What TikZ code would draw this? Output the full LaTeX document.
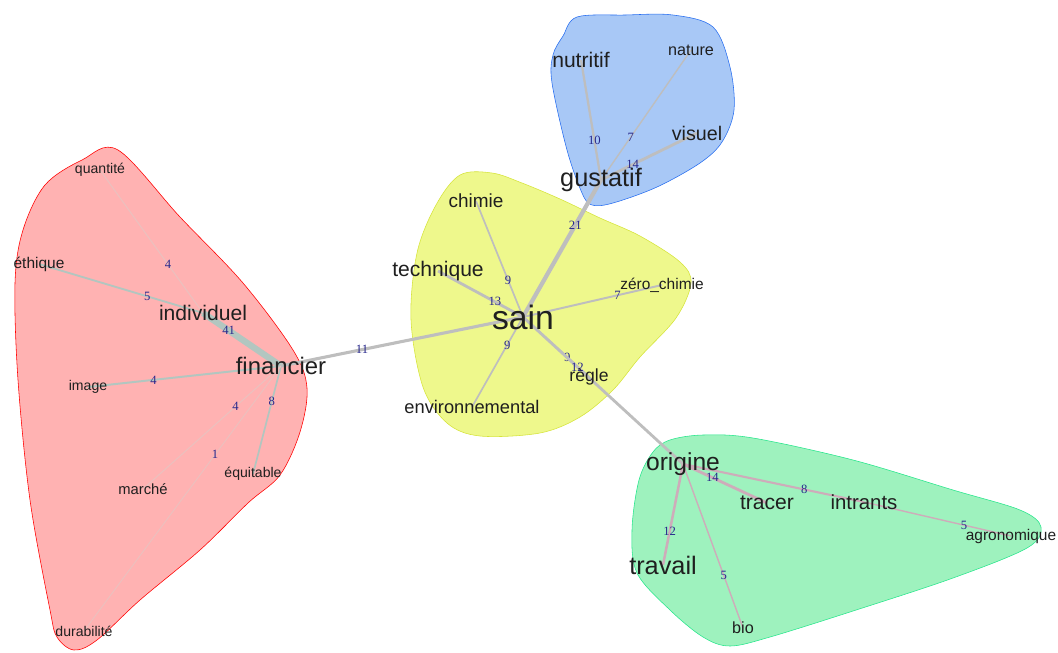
\documentclass[tikz,border=0pt]{standalone}
\usepackage{fontspec}
\setmainfont{Liberation Sans}
\newfontfamily\numfont{Liberation Serif}
\usepackage{xcolor}
\definecolor{hullred}{RGB}{255,178,178}
\definecolor{hullyellow}{RGB}{238,248,140}
\definecolor{hullblue}{RGB}{168,200,246}
\definecolor{hullgreen}{RGB}{158,242,190}
\definecolor{edgeyellow}{RGB}{214,228,60}
\definecolor{edgeblue}{RGB}{40,110,240}
\definecolor{edgegreen}{RGB}{40,230,140}
\definecolor{linkgray}{RGB}{190,190,190}
\definecolor{linkred}{RGB}{178,198,192}
\definecolor{linkfaint}{RGB}{236,192,190}
\definecolor{linkgreen}{RGB}{206,172,186}
\definecolor{lblblue}{RGB}{40,40,140}
\pgfdeclarelayer{hulls}
\pgfdeclarelayer{links}
\pgfsetlayers{hulls,links,main}

\begin{document}
\begin{tikzpicture}[x=0.025cm, y=-0.025cm,
    word/.style={font=\fontsize{#1}{#1}\selectfont, text=black!88, inner sep=0pt},
    lnk/.style={draw=linkgray, line width=#1},
    lbl/.style={font=\numfont\fontsize{9}{9}\selectfont, text=lblblue, inner sep=0pt}]
    \useasboundingbox (0,0) rectangle (1058,652);

    % clusters
    \begin{pgfonlayer}{hulls}
    \draw[red, fill=hullred] plot[smooth cycle, tension=0.55] coordinates {
        (118,150) (180,217) (243,283) (293,350) (307,388) (300,432) (280,475)
        (248,503) (200,550) (140,600) (97,640) (74,650) (57,637) (50,610)
        (30,500) (18,380) (15,283) (23,230) (45,185) (82,160)};
    \draw[edgeyellow, fill=hullyellow] plot[smooth cycle, tension=0.55] coordinates {
        (460,175) (492,173) (522,183) (560,199) (600,218) (640,236) (680,262)
        (691,283) (676,318) (640,357) (613,390) (580,417) (540,433) (480,436)
        (447,423) (423,387) (411,320) (417,253) (436,205)};
    \draw[edgeblue, fill=hullblue] plot[smooth cycle, tension=0.55] coordinates {
        (577,17) (625,15) (673,15) (713,27) (730,67) (734,110) (722,142)
        (700,163) (657,187) (613,203) (592,205) (582,193) (567,150) (552,83)
        (553,55) (563,36)};
    \draw[edgegreen, fill=hullgreen] plot[smooth cycle, tension=0.55] coordinates {
        (670,440) (703,435) (753,438) (853,460) (953,490) (1020,510) (1041,527)
        (1027,548) (953,578) (853,611) (770,637) (730,646) (703,637) (670,610)
        (637,573) (632,530) (639,480) (653,452)};
    \end{pgfonlayer}

    % words
    \node[word=10] (quantite) at (100,170) {quantité};
    \node[word=11] (ethique) at (39,264) {éthique};
    \node[word=15] (individuel) at (203,313) {individuel};
    \node[word=17] (financier) at (281,366) {financier};
    \node[word=10] (image) at (88,387) {image};
    \node[word=10.5] (marche) at (143,489) {marché};
    \node[word=10] (equitable) at (253,474) {équitable};
    \node[word=10] (durabilite) at (84,631) {durabilité};
    \node[word=13.5] (chimie) at (476,201) {chimie};
    \node[word=15] (technique) at (438,271) {technique};
    \node[word=24] (sain) at (523,317) {sain};
    \node[word=11] (zero) at (662,285) {zéro\_chimie};
    \node[word=13] (environ) at (472,407) {environnemental};
    \node[word=12.5] (regle) at (589,377) {règle};
    \node[word=18] (gustatif) at (601,180) {gustatif};
    \node[word=15] (nutritif) at (581,60) {nutritif};
    \node[word=11.5] (nature) at (691,50) {nature};
    \node[word=14] (visuel) at (697,133) {visuel};
    \node[word=17.5] (origine) at (683,464) {origine};
    \node[word=15] (tracer) at (767,503) {tracer};
    \node[word=14.5] (intrants) at (864,502) {intrants};
    \node[word=11] (agro) at (1011,536) {agronomique};
    \node[word=18] (travail) at (663,565) {travail};
    \node[word=11.5] (bio) at (743,628) {bio};

    % links with their weights
    \begin{pgfonlayer}{links}
    \draw[lnk=4.5pt, linkred] (individuel.center) -- node[lbl, pos=.33] {41} (financier.center);
    \draw[lnk=1.3pt, linkred] (individuel.center) -- node[lbl, pos=.34] {5} (ethique.center);
    \draw[lnk=0.8pt, linkfaint] (individuel.center) -- node[lbl, pos=.34] {4} (quantite.center);
    \draw[lnk=1.4pt, linkred] (image.center) -- node[lbl, pos=.34] {4} (financier.center);
    \draw[lnk=0.8pt, linkfaint] (financier.center) -- node[lbl, pos=.33] {4} (marche.center);
    \draw[lnk=1.2pt, linkred] (financier.center) -- node[lbl, pos=.33] {8} (equitable.center);
    \draw[lnk=0.7pt, linkfaint] (financier.center) -- node[lbl, pos=.335] {1} (durabilite.center);
    \draw[lnk=2.2pt] (financier.center) -- node[lbl, pos=.335] {11} (sain.center);
    \draw[lnk=3pt] (gustatif.center) -- node[lbl, pos=.33] {21} (sain.center);
    \draw[lnk=1.2pt] (sain.center) -- node[lbl, pos=.32] {9} (chimie.center);
    \draw[lnk=2pt] (sain.center) -- node[lbl, pos=.33] {13} (technique.center);
    \draw[lnk=1.4pt] (zero.center) -- node[lbl, pos=.32] {7} (sain.center);
    \draw[lnk=1.2pt] (sain.center) -- node[lbl, pos=.31] {9} (environ.center);
    \draw[lnk=1.5pt] (regle.center) -- node[lbl, pos=.33] {9} (sain.center);
    \draw[lnk=2pt] (sain.center) -- node[lbl, pos=.34] {12} (origine.center);
    \draw[lnk=1.6pt] (gustatif.center) -- node[lbl, pos=.33] {10} (nutritif.center);
    \draw[lnk=1pt] (gustatif.center) -- node[lbl, pos=.33] {7} (nature.center);
    \draw[lnk=2pt] (gustatif.center) -- node[lbl, pos=.33] {14} (visuel.center);
    \draw[lnk=2pt, linkgreen] (origine.center) -- node[lbl, pos=.35] {14} (tracer.center);
    \draw[lnk=1.5pt, linkgreen] (intrants.center) -- node[lbl, pos=.33] {8} (origine.center);
    \draw[lnk=1pt, linkgreen] (agro.center) -- node[lbl, pos=.32] {5} (intrants.center);
    \draw[lnk=1.8pt, linkgreen] (travail.center) -- node[lbl, pos=.33] {12} (origine.center);
    \draw[lnk=1pt, linkgreen] (bio.center) -- node[lbl, pos=.32] {5} (origine.center);
    \end{pgfonlayer}
\end{tikzpicture}
\end{document}
